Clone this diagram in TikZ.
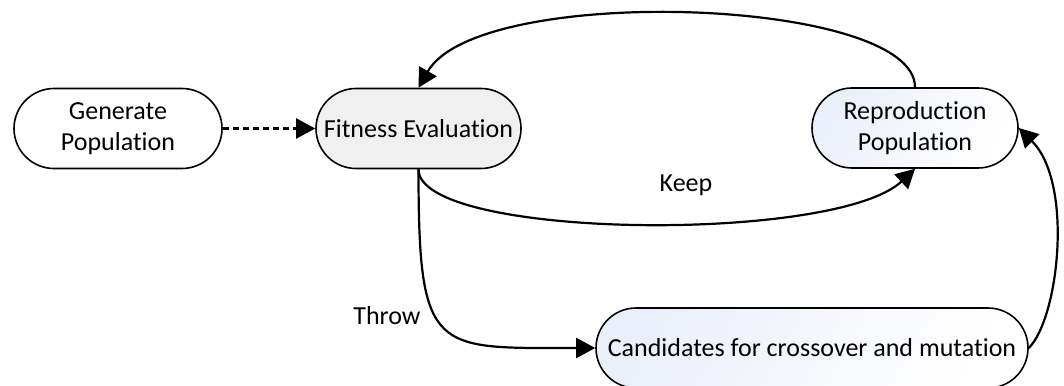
\documentclass[tikz,border=0pt]{standalone}
\usepackage{fontspec}
\setmainfont{Carlito}[Ligatures=NoCommon]
\usetikzlibrary{shapes.misc,arrows.meta}

\definecolor{boxgray}{HTML}{F0F0F0}
\definecolor{paleblue}{HTML}{EBEFF9}

\tikzset{
  stage/.style={rounded rectangle, draw=black, line width=1.6pt,
    minimum height=80pt, inner xsep=4pt, align=center,
    font=\fontsize{26pt}{31pt}\selectfont},
  plainfill/.style={fill=white},
  grayfill/.style={fill=boxgray},
  bluefill/.style={left color=paleblue, right color=white, shading angle=60},
  flow/.style={line width=2.2pt, -{Triangle[length=19pt,width=20pt]}},
  tag/.style={font=\fontsize{26pt}{31pt}\selectfont, inner sep=0pt}
}

\begin{document}
\begin{tikzpicture}[x=1pt,y=1pt]
  \useasboundingbox (0,0) rectangle (1064,385);

  % process stages
  \node[stage, plainfill, minimum width=216pt] (gen)  at (118,256.5) {Generate\\Population};
  \node[stage, grayfill,  minimum width=213pt] (fit)  at (418.5,256.5) {Fitness Evaluation};
  \node[stage, bluefill,  minimum width=214pt] (rep)  at (915,257) {Reproduction\\Population};
  \node[stage, bluefill,  minimum width=440pt] (cand) at (812,37) {Candidates for crossover and mutation};

  % edge labels
  \node[tag] (keep)  at (686,199.5) {Keep};
  \node[tag] (throw) at (387,69) {Throw};

  % connectors
  \draw[flow, dash pattern=on 6pt off 4pt] (gen.east) -- (fit.west);
  \draw[flow] (rep.north) .. controls +(0,90) and +(60,105) .. (fit.north);
  \draw[flow] (fit.south) .. controls +(0,-70) and +(-80,-75) .. (rep.south);
  \draw[flow] (fit.south) .. controls +(0,-186) and +(-162,0) .. (cand.west);
  \draw[flow] (cand.east) .. controls +(30,30) and +(55,-55) .. (rep.east);
\end{tikzpicture}
\end{document}
